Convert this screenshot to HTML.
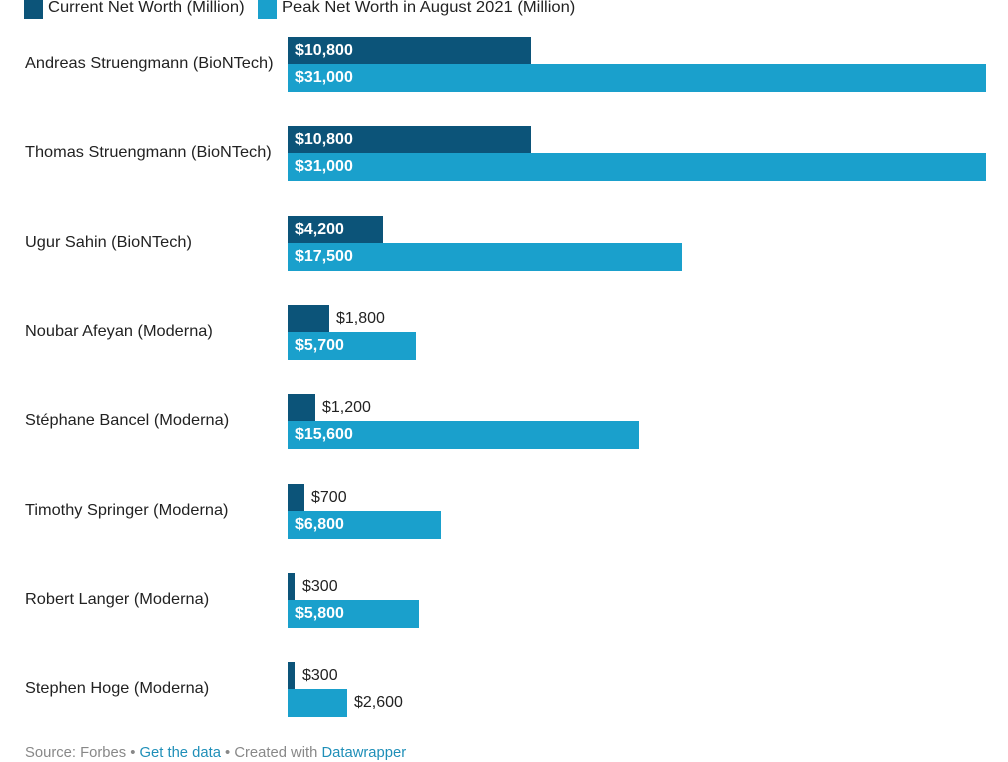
<!DOCTYPE html>
<html><head><meta charset="utf-8"><style>
body{margin:0;width:1008px;height:760px;background:#fff;font-family:"Liberation Sans",sans-serif;position:relative;overflow:hidden;color:#222}
.a{position:absolute}
.lab{position:absolute;left:25px;font-size:16px;line-height:20px;color:#222;transform-origin:0 0;transform:scaleX(1.02)}
.bar{position:absolute;left:288px}
.d{background:#0c5479}.l{background:#1aa0cc}
.v{position:absolute;font-size:16px;line-height:20px;white-space:nowrap}
.in{color:#fff;font-weight:bold;left:7px}
.lg{position:absolute;top:-2px;font-size:16px;line-height:20px;white-space:nowrap;transform-origin:0 0;transform:scaleX(1.035)}
</style></head><body>
<div class="a" style="left:24px;top:0px;width:19px;height:19px;background:#0c5479"></div>
<div class="lg" style="left:48px">Current Net Worth (Million)</div>
<div class="a" style="left:258px;top:0px;width:19px;height:19px;background:#1aa0cc"></div>
<div class="lg" style="left:282px">Peak Net Worth in August 2021 (Million)</div>
<div id="c"></div>
<div class="a" style="left:25px;top:744px;font-size:15px;line-height:18px;color:#888;white-space:nowrap;transform-origin:0 0;transform:scaleX(0.986)">Source: Forbes • <span style="color:#1f8fb8">Get the data</span> • Created with <span style="color:#1f8fb8">Datawrapper</span></div>
<script>
var d=[["Andreas Struengmann (BioNTech)",10800,31000],["Thomas Struengmann (BioNTech)",10800,31000],["Ugur Sahin (BioNTech)",4200,17500],["Noubar Afeyan (Moderna)",1800,5700],["Stéphane Bancel (Moderna)",1200,15600],["Timothy Springer (Moderna)",700,6800],["Robert Langer (Moderna)",300,5800],["Stephen Hoge (Moderna)",300,2600]];
var s=698/31000,h="";
function f(n){return "$"+n.toLocaleString("en-US")}
function bar(cls,y,v){var w=Math.round(v*s);var inside=w>80;
return '<div class="bar '+cls+'" style="top:'+y+'px;height:'+(cls=="d"?27:28)+'px;width:'+w+'px"><div class="v '+(inside?'in':'')+'" style="top:4px;'+(inside?'':'left:'+(w+7)+'px;color:#222')+'">'+f(v)+'</div></div>';}
d.forEach(function(r,i){var y=Math.round(37+i*89.3);
h+='<div class="lab" style="top:'+(y+17)+'px">'+r[0]+'</div>';
h+=bar("d",y,r[1])+bar("l",y+27,r[2]);});
document.getElementById("c").innerHTML=h;
</script>
</body></html>
